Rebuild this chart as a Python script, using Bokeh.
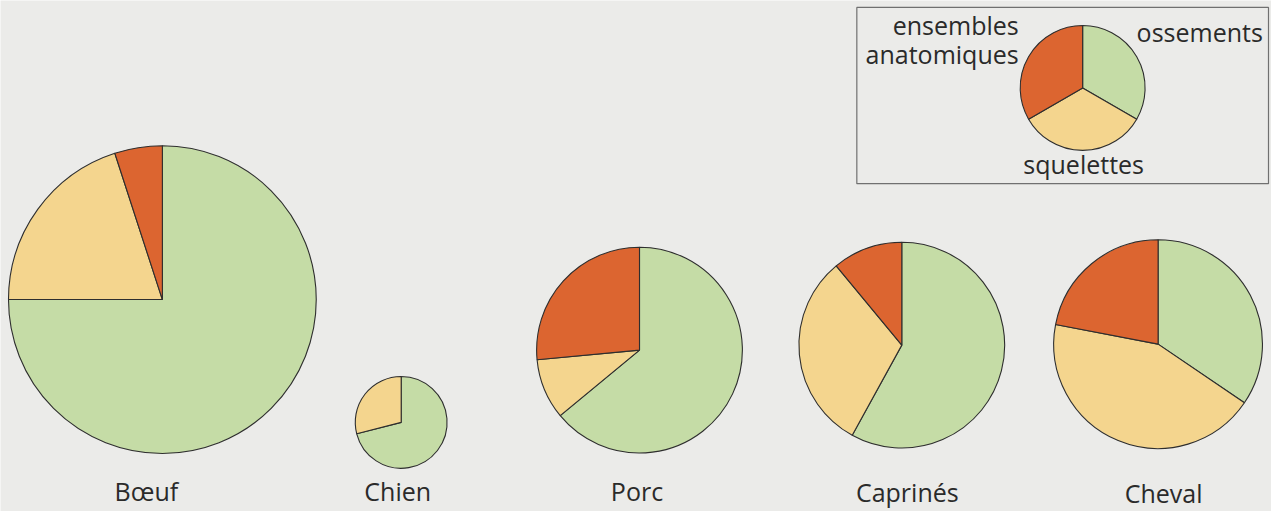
import math
from bokeh.plotting import figure
from bokeh.models import ColumnDataSource, Range1d
from bokeh.core.properties import value
from bokeh.embed import file_html
from bokeh.resources import INLINE

# ---------------- data ----------------
categories = ["Bœuf", "Chien", "Porc", "Caprinés", "Cheval"]
ossements = [75.0, 71.0, 64.0, 58.0, 34.5]
squelettes = [20.0, 29.0, 9.5, 31.0, 43.5]
ensembles = [5.0, 0.0, 26.5, 11.0, 22.0]
totals = [100.0, 8.9, 44.7, 44.7, 46.0]  # relative pie size (area)
series_labels = ["ossements", "squelettes", "ensembles anatomiques"]
legend_shares = [1, 1, 1]

# ---------------- layout / style ----------------
BG = "#ebebe9"
COLORS = ["#c5dca6", "#f4d58e", "#dc6530"]
EDGE = "#2e2e2e"
TXT = "#2a2a2a"
FONT = value("Open Sans")
FS = "25px"
cx = [174, 413, 651.5, 914, 1170.5]
cy = [317, 441, 368, 363, 362]
label_x = [158, 409.5, 649, 919.5, 1176]
label_mid = [510.5, 510.5, 510.5, 511, 512]
R_MAX = 154.0

p = figure(width=1271, height=511,
           x_range=Range1d(12, 1284), y_range=Range1d(-531, -15),
           output_backend="svg", toolbar_location=None, min_border=0)
p.axis.visible = False
p.grid.visible = False
p.outline_line_color = None
p.background_fill_color = BG
p.border_fill_color = BG


def wedges(xc, yc, r, vals):
    total = sum(vals)
    rows = dict(x=[], y=[], r=[], s=[], e=[], c=[])
    cum = 0.0
    for v, col in zip(vals, COLORS):
        if v <= 0:
            continue
        t1 = cum / total * 2 * math.pi
        t2 = (cum + v) / total * 2 * math.pi
        cum += v
        rows["x"].append(xc)
        rows["y"].append(-yc)
        rows["r"].append(r)
        rows["s"].append(math.pi / 2 - t2)
        rows["e"].append(math.pi / 2 - t1)
        rows["c"].append(col)
    return rows


data = dict(x=[], y=[], r=[], s=[], e=[], c=[])
for i in range(len(categories)):
    r = R_MAX * math.sqrt(totals[i] / max(totals))
    w = wedges(cx[i], cy[i], r, [ossements[i], squelettes[i], ensembles[i]])
    for k in data:
        data[k].extend(w[k])

# legend pie
w = wedges(1095, 103.3, 62.5, legend_shares)
for k in data:
    data[k].extend(w[k])

src = ColumnDataSource(data)
p.wedge(x="x", y="y", radius="r", start_angle="s", end_angle="e",
        fill_color="c", line_color=EDGE, line_width=1.1, source=src)

# category labels
p.text(x=label_x, y=[-m for m in label_mid], text=categories,
       text_font=FONT, text_font_size=FS, text_align="center",
       text_baseline="middle", text_color=TXT)

# legend box
p.quad(left=[869], right=[1281], top=[-22], bottom=[-200],
       fill_alpha=0, line_color="#707070", line_width=1.2)

ens1, ens2 = series_labels[2].split(" ")
p.text(x=[1031, 1031], y=[-40, -69], text=[ens1, ens2],
       text_font=FONT, text_font_size=FS, text_align="right",
       text_baseline="middle", text_color=TXT)
p.text(x=[1149], y=[-46.5], text=[series_labels[0]],
       text_font=FONT, text_font_size=FS, text_align="left",
       text_baseline="middle", text_color=TXT)
p.text(x=[1096], y=[-180], text=[series_labels[1]],
       text_font=FONT, text_font_size=FS, text_align="center",
       text_baseline="middle", text_color=TXT)

html = file_html(p, INLINE)
html = html.replace("<body>", '<body style="background:%s;">' % BG, 1)
open("out.html", "w").write(html)
